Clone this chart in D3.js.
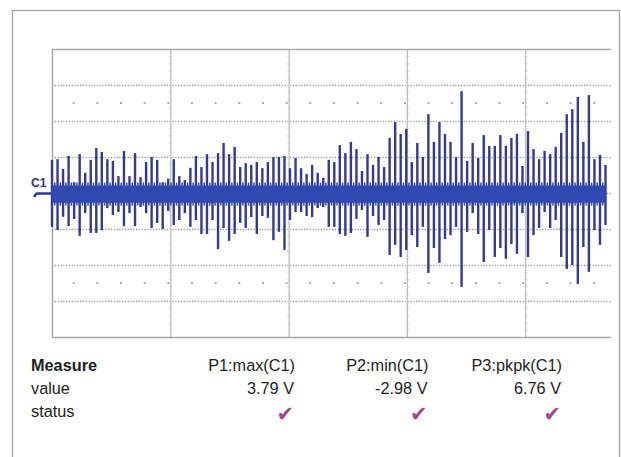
<!DOCTYPE html>
<html><head><meta charset="utf-8">
<script src="https://cdn.jsdelivr.net/npm/d3@7"></script>
<style>html,body{margin:0;padding:0;background:#fff;}svg{display:block;}</style>
</head><body>
<script>
// ---- data (amplitudes in vertical divisions) ----
const upPeaks = [
  0.92,0.94,0.67,1.03,0.30,1.08,0.56,0.92,1.25,1.14,0.94,0.89,0.47,1.17,0.47,1.11,0.44,0.86,1.00,0.92,0.30,0.40,0.94,0.47,0.36,0.70,
  1.03,0.72,1.08,0.86,1.11,1.39,1.08,1.28,0.72,0.83,0.78,0.86,0.69,0.86,1.00,1.00,1.03,0.69,0.97,0.69,0.53,0.78,0.56,0.42,0.92,
  0.86,1.33,1.11,1.42,1.22,0.61,1.08,0.78,1.00,0.72,1.53,1.97,1.64,1.78,0.86,1.39,1.00,2.19,1.42,1.97,1.64,1.42,1.00,2.83,
  0.89,1.39,0.97,1.61,1.31,1.31,1.61,1.31,1.53,1.64,0.75,1.72,1.22,0.94,1.17,1.08,1.28,1.67,2.19,2.33,2.67,1.42,2.72,0.94,1.06,0.78
];
const downPeaks = [
  -0.94,-1.03,-0.66,-0.92,-0.72,-1.19,-0.56,-1.11,-1.11,-1.03,-0.42,-0.61,-0.53,-0.92,-0.56,-0.92,-0.39,-0.56,-0.97,-0.83,-1.00,-0.50,-0.89,-0.75,-0.56,-0.94,
  -0.75,-1.14,-1.14,-0.75,-1.56,-0.97,-1.33,-1.14,-0.83,-0.97,-0.67,-1.14,-0.64,-0.69,-1.31,-1.08,-1.58,-0.75,-0.53,-0.53,-0.64,-0.67,-0.42,-0.39,-0.94,
  -0.94,-1.14,-1.19,-1.11,-0.72,-0.47,-1.22,-0.64,-0.89,-0.75,-1.72,-1.44,-1.78,-1.58,-1.17,-1.50,-0.94,-2.22,-1.53,-1.94,-1.28,-1.17,-0.94,-2.61,
  -1.08,-0.56,-1.14,-1.92,-1.03,-1.78,-1.53,-1.83,-1.42,-1.69,-0.56,-1.78,-1.17,-0.97,-0.53,-0.97,-0.75,-1.78,-2.11,-2.00,-2.53,-1.50,-2.19,-1.03,-1.44,-0.89
];
const noiseBand = [0.21, -0.27];           // dense noise envelope (div)
const yGridDivs = [-4,-3,-2,-1,0,1,2,3,4];
const xGridDivs = [0,1,2,3,4];
const dotRowDivs = [2.5, -2.5];
const rowLabels = ["Measure","value","status"];
const measureNames = ["P1:max(C1)","P2:min(C1)","P3:pkpk(C1)"];
const measureValues = ["3.79 V","-2.98 V","6.76 V"];
const measureStatus = ["\u2714","\u2714","\u2714"];
const channelLabel = "C1";

// ---- layout ----
const W = 621, H = 457;
const plotL = 52, plotT = 49, plotB = 337, plotR = 611;
const svg = d3.select("body").append("svg").attr("width", W).attr("height", H);
svg.append("rect").attr("width", W).attr("height", H).attr("fill", "#fff");
svg.append("rect").attr("x", 12.5).attr("y", 10.5).attr("width", 607).attr("height", 470)
  .attr("fill", "none").attr("stroke", "#a3a3a3").attr("stroke-width", 1.3);

const y = d3.scaleLinear().domain([-4, 4]).range([plotB, plotT]);
const xDiv = d3.scaleLinear().domain([0, 1]).range([plotL, plotL + 118.3]);
const xi = d3.scaleLinear().domain([0, upPeaks.length - 1]).range([plotL, 605.5]);

const g = svg.append("g");
// horizontal dotted grid
g.selectAll("line.hg").data(yGridDivs.filter(d => d > -4 && d < 4)).join("line")
  .attr("x1", plotL).attr("x2", plotR).attr("y1", d => y(d) + 0.5).attr("y2", d => y(d) + 0.5)
  .attr("stroke", "#9c9c9c").attr("stroke-width", 1.3).attr("stroke-dasharray", "1.3,1.5");
// vertical grid
g.selectAll("line.vg").data(xGridDivs.filter(d => d > 0)).join("line")
  .attr("x1", d => xDiv(d) + 0.5).attr("x2", d => xDiv(d) + 0.5).attr("y1", plotT).attr("y2", plotB)
  .attr("stroke", "#bdbdbd").attr("stroke-width", 1.3);
// tick marks on vertical grid lines
xGridDivs.filter(d => d > 0).forEach(d => {
  g.selectAll(null).data(d3.range(-4, 4.01, 0.2)).join("line")
    .attr("x1", xDiv(d) - 1.5).attr("x2", xDiv(d) + 2.5)
    .attr("y1", v => y(v) + 0.5).attr("y2", v => y(v) + 0.5)
    .attr("stroke", "#cfcfcf").attr("stroke-width", 0.8);
});
// dot rows
dotRowDivs.forEach(r => {
  g.selectAll(null).data(d3.range(0.2, 4.7, 0.2)).join("rect")
    .attr("x", d => xDiv(d) - 3).attr("y", y(r) - 1).attr("width", 2).attr("height", 2)
    .attr("fill", "#aaaaaa");
});
// frame lines
g.append("line").attr("x1", plotL).attr("x2", plotR).attr("y1", plotT + 0.5).attr("y2", plotT + 0.5)
  .attr("stroke", "#a6a6a6").attr("stroke-width", 1.5);
g.append("line").attr("x1", plotL).attr("x2", plotR).attr("y1", plotB + 0.5).attr("y2", plotB + 0.5)
  .attr("stroke", "#a6a6a6").attr("stroke-width", 1.5);
g.append("line").attr("x1", plotL + 0.5).attr("x2", plotL + 0.5).attr("y1", plotT).attr("y2", plotB)
  .attr("stroke", "#a6a6a6").attr("stroke-width", 1.5);

// trace
const idx = d3.range(upPeaks.length);
// spikes
g.selectAll("line.sp").data(idx).join("line")
  .attr("x1", i => xi(i)).attr("x2", i => xi(i))
  .attr("y1", i => y(upPeaks[i])).attr("y2", i => y(downPeaks[i]))
  .attr("stroke", "#363b88").attr("stroke-width", 2.4);
// small noise spikes between main spikes
g.selectAll("line.ns").data(idx.slice(0, -1)).join("line")
  .attr("x1", i => xi(i + 0.5)).attr("x2", i => xi(i + 0.5))
  .attr("y1", i => y(noiseBand[0] + 0.08)).attr("y2", i => y(noiseBand[1] - 0.08))
  .attr("stroke", "#2f48ae").attr("stroke-width", 1.5);
// dense noise band on top
const band = d3.area().x(i => xi(i)).y0(() => y(noiseBand[1])).y1(() => y(noiseBand[0]));
g.append("path").datum(idx).attr("d", band).attr("fill", "#2f49b0");

// channel marker
svg.append("text").attr("x", 31).attr("y", 187).text(channelLabel)
  .attr("font-family", "Liberation Sans, Arial, sans-serif").attr("font-weight", "bold")
  .attr("font-size", 12).attr("fill", "#2b3a8a");
svg.append("path").attr("d", `M${plotL},${y(0) + 0.5} L38,${y(0) + 0.5} Q35,${y(0) + 0.5} 34.5,${y(0) + 4}`)
  .attr("fill", "none").attr("stroke", "#2b3a8a").attr("stroke-width", 2.4);

// measurement table
const font = "Liberation Sans, Arial, sans-serif";
const fs = 16.3;
const rowY = d3.scaleLinear().domain([0, 2]).range([371, 417]);
svg.selectAll("text.rl").data(rowLabels).join("text")
  .attr("x", 31).attr("y", (d, i) => rowY(i)).text(d => d)
  .attr("font-family", font).attr("font-size", fs).attr("fill", "#1e1e1e")
  .attr("font-weight", (d, i) => i === 0 ? "bold" : "normal");
const colX = d3.scaleLinear().domain([0, 2]).range([295, 562]);
svg.selectAll("text.mn").data(measureNames).join("text")
  .attr("x", (d, i) => colX(i)).attr("y", rowY(0)).attr("text-anchor", "end").text(d => d)
  .attr("font-family", font).attr("font-size", fs).attr("fill", "#1e1e1e");
svg.selectAll("text.mv").data(measureValues).join("text")
  .attr("x", (d, i) => colX(i) - 1).attr("y", rowY(1)).attr("text-anchor", "end").text(d => d)
  .attr("font-family", font).attr("font-size", fs).attr("fill", "#1e1e1e");
svg.selectAll("text.ms").data(measureStatus).join("text")
  .attr("x", (d, i) => colX(i) - 1).attr("y", rowY(2) + 4).attr("text-anchor", "end").text(d => d)
  .attr("font-family", "DejaVu Sans, sans-serif").attr("font-size", 21).attr("fill", "#a8448f");
</script>
</body></html>
